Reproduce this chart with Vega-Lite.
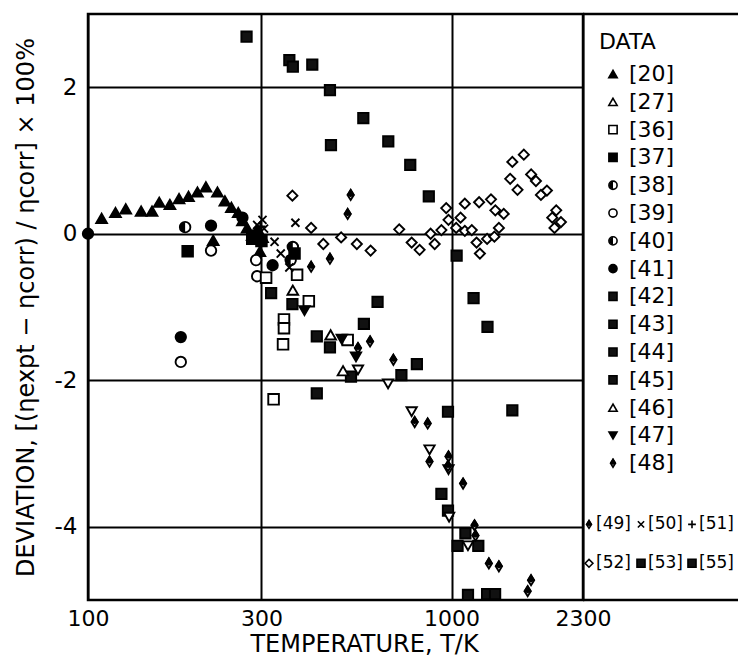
{
  "$schema": "https://vega.github.io/schema/vega-lite/v6.json",
  "background": "white",
  "padding": {"left": 12, "top": 12, "right": 0, "bottom": 0},
  "spacing": 0,
  "bounds": "flush",
  "config": {
    "font": "DejaVu Sans",
    "view": {"stroke": "black", "strokeWidth": 2.5},
    "concat": {"spacing": 0}
  },
  "datasets": {
    "pts": [
      {"T":100,"d":0.0,"s":"circ_f"},
      {"T":109,"d":0.21,"s":"tri_f"},{"T":119,"d":0.29,"s":"tri_f"},{"T":127,"d":0.34,"s":"tri_f"},{"T":140,"d":0.31,"s":"tri_f"},
      {"T":150,"d":0.31,"s":"tri_f"},{"T":157,"d":0.43,"s":"tri_f"},{"T":168,"d":0.40,"s":"tri_f"},{"T":178,"d":0.48,"s":"tri_f"},
      {"T":189,"d":0.51,"s":"tri_f"},{"T":200,"d":0.57,"s":"tri_f"},{"T":211,"d":0.64,"s":"tri_f"},{"T":227,"d":0.57,"s":"tri_f"},
      {"T":238,"d":0.45,"s":"tri_f"},{"T":248,"d":0.36,"s":"tri_f"},{"T":259,"d":0.29,"s":"tri_f"},{"T":266,"d":0.18,"s":"tri_f"},
      {"T":274,"d":0.08,"s":"tri_f"},{"T":283,"d":-0.02,"s":"tri_f"},{"T":292,"d":0.05,"s":"tri_f"},{"T":221,"d":-0.09,"s":"tri_f"},
      {"T":297,"d":-0.24,"s":"tri_f"},{"T":302,"d":-0.05,"s":"tri_f"},
      {"T":218,"d":0.11,"s":"circ_f"},{"T":266,"d":0.22,"s":"circ_f"},{"T":322,"d":-0.43,"s":"circ_f"},{"T":180,"d":-1.41,"s":"circ_f"},{"T":290,"d":-0.05,"s":"circ_f"},
      {"T":185,"d":0.09,"s":"circ_h"},{"T":366,"d":-0.18,"s":"circ_h"},{"T":361,"d":-0.36,"s":"circ_h"},
      {"T":218,"d":-0.23,"s":"circ_o"},{"T":292,"d":-0.58,"s":"circ_o"},{"T":180,"d":-1.75,"s":"circ_o"},{"T":290,"d":-0.36,"s":"circ_o"},
      {"T":188,"d":-0.24,"s":"sq_f"},{"T":283,"d":-0.07,"s":"sq_f"},{"T":370,"d":-0.27,"s":"sq_f"},{"T":300,"d":-0.1,"s":"sq_f"},
      {"T":309,"d":-0.60,"s":"sq_o"},{"T":376,"d":-0.56,"s":"sq_o"},{"T":405,"d":-0.92,"s":"sq_o"},{"T":346,"d":-1.17,"s":"sq_o"},
      {"T":346,"d":-1.29,"s":"sq_o"},{"T":344,"d":-1.51,"s":"sq_o"},{"T":324,"d":-2.26,"s":"sq_o"},{"T":518,"d":-1.45,"s":"sq_o"},
      {"T":273,"d":2.69,"s":"sq_m"},{"T":358,"d":2.37,"s":"sq_m"},{"T":366,"d":2.28,"s":"sq_m"},{"T":414,"d":2.31,"s":"sq_m"},
      {"T":463,"d":1.96,"s":"sq_m"},{"T":572,"d":1.58,"s":"sq_m"},{"T":466,"d":1.21,"s":"sq_m"},{"T":670,"d":1.26,"s":"sq_m"},
      {"T":770,"d":0.94,"s":"sq_m"},{"T":866,"d":0.51,"s":"sq_m"},{"T":1033,"d":-0.30,"s":"sq_m"},{"T":1150,"d":-0.88,"s":"sq_m"},
      {"T":1256,"d":-1.27,"s":"sq_m"},{"T":1470,"d":-2.41,"s":"sq_m"},{"T":626,"d":-0.93,"s":"sq_m"},{"T":574,"d":-1.23,"s":"sq_m"},
      {"T":426,"d":-1.40,"s":"sq_m"},{"T":463,"d":-1.55,"s":"sq_m"},{"T":803,"d":-1.78,"s":"sq_m"},{"T":529,"d":-1.95,"s":"sq_m"},
      {"T":728,"d":-1.93,"s":"sq_m"},{"T":365,"d":-0.96,"s":"sq_m"},{"T":426,"d":-2.18,"s":"sq_m"},{"T":319,"d":-0.81,"s":"sq_m"},
      {"T":978,"d":-2.43,"s":"sq_m"},{"T":938,"d":-3.55,"s":"sq_m"},{"T":978,"d":-3.78,"s":"sq_m"},{"T":1092,"d":-4.09,"s":"sq_m"},
      {"T":1039,"d":-4.26,"s":"sq_m"},{"T":1185,"d":-4.26,"s":"sq_m"},{"T":1110,"d":-4.93,"s":"sq_m"},{"T":1253,"d":-4.92,"s":"sq_m"},
      {"T":1318,"d":-4.92,"s":"sq_m"},
      {"T":394,"d":-1.05,"s":"dtri_f"},{"T":499,"d":-1.44,"s":"dtri_f"},{"T":546,"d":-1.68,"s":"dtri_f"},
      {"T":553,"d":-1.86,"s":"dtri_o"},{"T":669,"d":-2.05,"s":"dtri_o"},{"T":777,"d":-2.43,"s":"dtri_o"},{"T":870,"d":-2.95,"s":"dtri_o"},
      {"T":981,"d":-3.22,"s":"dtri_o"},{"T":985,"d":-3.87,"s":"dtri_o"},{"T":1110,"d":-4.26,"s":"dtri_o"},
      {"T":465,"d":-1.38,"s":"tri_o"},{"T":503,"d":-1.87,"s":"tri_o"},{"T":366,"d":-0.77,"s":"tri_o"},
      {"T":528,"d":0.53,"s":"dia_h"},{"T":518,"d":0.27,"s":"dia_h"},{"T":463,"d":-0.34,"s":"dia_h"},{"T":411,"d":-0.45,"s":"dia_h"},
      {"T":597,"d":-1.47,"s":"dia_h"},{"T":553,"d":-1.56,"s":"dia_h"},{"T":692,"d":-1.72,"s":"dia_h"},{"T":792,"d":-2.57,"s":"dia_h"},
      {"T":860,"d":-2.59,"s":"dia_h"},{"T":870,"d":-3.11,"s":"dia_h"},{"T":981,"d":-3.04,"s":"dia_h"},{"T":978,"d":-3.17,"s":"dia_h"},
      {"T":1076,"d":-3.41,"s":"dia_h"},{"T":1157,"d":-3.98,"s":"dia_h"},{"T":1164,"d":-4.12,"s":"dia_h"},{"T":1267,"d":-4.50,"s":"dia_h"},
      {"T":1350,"d":-4.54,"s":"dia_h"},{"T":1655,"d":-4.73,"s":"dia_h"},{"T":1620,"d":-4.88,"s":"dia_h"},
      {"T":365,"d":0.52,"s":"dia_o"},{"T":411,"d":0.08,"s":"dia_o"},{"T":444,"d":-0.14,"s":"dia_o"},{"T":497,"d":-0.05,"s":"dia_o"},
      {"T":549,"d":-0.14,"s":"dia_o"},{"T":599,"d":-0.23,"s":"dia_o"},{"T":718,"d":0.06,"s":"dia_o"},{"T":777,"d":-0.12,"s":"dia_o"},
      {"T":817,"d":-0.22,"s":"dia_o"},{"T":876,"d":0.0,"s":"dia_o"},{"T":899,"d":-0.14,"s":"dia_o"},{"T":938,"d":0.05,"s":"dia_o"},
      {"T":967,"d":0.35,"s":"dia_o"},{"T":981,"d":0.19,"s":"dia_o"},{"T":1030,"d":0.08,"s":"dia_o"},{"T":1059,"d":0.22,"s":"dia_o"},
      {"T":1088,"d":0.41,"s":"dia_o"},{"T":1088,"d":0.04,"s":"dia_o"},{"T":1137,"d":0.05,"s":"dia_o"},{"T":1191,"d":0.43,"s":"dia_o"},
      {"T":1172,"d":-0.12,"s":"dia_o"},{"T":1197,"d":-0.27,"s":"dia_o"},{"T":1253,"d":-0.07,"s":"dia_o"},{"T":1284,"d":0.47,"s":"dia_o"},
      {"T":1312,"d":-0.04,"s":"dia_o"},{"T":1320,"d":0.32,"s":"dia_o"},{"T":1350,"d":0.08,"s":"dia_o"},{"T":1392,"d":0.27,"s":"dia_o"},
      {"T":1450,"d":0.75,"s":"dia_o"},{"T":1470,"d":0.98,"s":"dia_o"},{"T":1519,"d":0.60,"s":"dia_o"},{"T":1581,"d":1.08,"s":"dia_o"},
      {"T":1656,"d":0.81,"s":"dia_o"},{"T":1707,"d":0.72,"s":"dia_o"},{"T":1762,"d":0.53,"s":"dia_o"},{"T":1830,"d":0.59,"s":"dia_o"},
      {"T":1893,"d":0.22,"s":"dia_o"},{"T":1941,"d":0.32,"s":"dia_o"},{"T":1920,"d":0.08,"s":"dia_o"},{"T":2000,"d":0.16,"s":"dia_o"},
      {"T":372,"d":0.15,"s":"cross"},{"T":326,"d":-0.11,"s":"cross"},{"T":339,"d":-0.27,"s":"cross"},{"T":358,"d":-0.46,"s":"cross"},
      {"T":292,"d":0.12,"s":"cross"},{"T":302,"d":0.19,"s":"cross"},{"T":305,"d":0.07,"s":"cross"},{"T":280,"d":0.0,"s":"cross"},
      {"T":298,"d":0.1,"s":"plus"}
    ],
    "leg": [
      {"r":-0.15,"tx":16,"lab":"DATA","fs":22},
      {"r":1,"sx":30,"s":"tri_f","tx":46,"lab":"[20]","fs":22},
      {"r":2,"sx":30,"s":"tri_o","tx":46,"lab":"[27]","fs":22},
      {"r":3,"sx":30,"s":"sq_o","tx":46,"lab":"[36]","fs":22},
      {"r":4,"sx":30,"s":"sq_f","tx":46,"lab":"[37]","fs":22},
      {"r":5,"sx":30,"s":"circ_h","tx":46,"lab":"[38]","fs":22},
      {"r":6,"sx":30,"s":"circ_o","tx":46,"lab":"[39]","fs":22},
      {"r":7,"sx":30,"s":"circ_h","tx":46,"lab":"[40]","fs":22},
      {"r":8,"sx":30,"s":"circ_f","tx":46,"lab":"[41]","fs":22},
      {"r":9,"sx":30,"s":"sq_m","tx":46,"lab":"[42]","fs":22},
      {"r":10,"sx":30,"s":"sq_m","tx":46,"lab":"[43]","fs":22},
      {"r":11,"sx":30,"s":"sq_m","tx":46,"lab":"[44]","fs":22},
      {"r":12,"sx":30,"s":"sq_m","tx":46,"lab":"[45]","fs":22},
      {"r":13,"sx":30,"s":"tri_o","tx":46,"lab":"[46]","fs":22},
      {"r":14,"sx":30,"s":"dtri_f","tx":46,"lab":"[47]","fs":22},
      {"r":15,"sx":30,"s":"dia_h","tx":46,"lab":"[48]","fs":22},
      {"r":17.2,"sx":6,"s":"dia_h","tx":13,"lab":"[49]","fs":17},
      {"r":17.2,"sx":58,"s":"cross","tx":65,"lab":"[50]","fs":17},
      {"r":17.2,"sx":109,"s":"plus","tx":116,"lab":"[51]","fs":17},
      {"r":18.6,"sx":6,"s":"dia_o","tx":13,"lab":"[52]","fs":17},
      {"r":18.6,"sx":58,"s":"sq_m","tx":65,"lab":"[53]","fs":17},
      {"r":18.6,"sx":109,"s":"sq_m","tx":116,"lab":"[55]","fs":17}
    ]
  },
  "hconcat": [
    {
      "width": 495,
      "height": 586,
      "data": {"name": "pts"},
      "encoding": {
        "x": {
          "field": "T", "type": "quantitative",
          "scale": {"type": "log", "domain": [100, 2300], "nice": false},
          "axis": {
            "values": [100, 300, 1000, 2300], "format": "d",
            "title": "TEMPERATURE, T/K",
            "grid": true, "gridColor": "black", "gridWidth": 2, "gridOpacity": 1,
            "ticks": false, "domain": false, "labelFlush": false, "labelOverlap": false,
            "labelFontSize": 22, "labelPadding": 8, "labelColor": "black",
            "titleFontSize": 24, "titleFontWeight": "normal", "titleColor": "black",
            "titlePadding": 3, "titleX": 276
          }
        },
        "y": {
          "field": "d", "type": "quantitative",
          "scale": {"domain": [-5, 3], "nice": false},
          "axis": {
            "values": [-4, -2, 0, 2],
            "labelExpr": "datum.value < 0 ? '-' + abs(datum.value) : datum.label",
            "title": "DEVIATION, [(ηexpt − ηcorr) / ηcorr] × 100%",
            "grid": true, "gridColor": "black", "gridWidth": 2, "gridOpacity": 1,
            "ticks": false, "domain": false, "labelFlush": false,
            "labelFontSize": 23, "labelPadding": 11, "labelColor": "black",
            "titleFontSize": 24, "titleFontWeight": "normal", "titleColor": "black",
            "titlePadding": 16
          }
        }
      },
      "layer": [
        {
          "mark": {"type": "point", "stroke": "black", "strokeWidth": 1.9, "opacity": 1, "fillOpacity": 1},
          "encoding": {
            "shape": {"field": "s", "type": "nominal", "legend": null,
              "scale": {"domain": ["tri_f","tri_o","sq_o","sq_f","circ_h","circ_o","circ_f","sq_m","dtri_f","dtri_o","dia_h","dia_o","cross","plus"],
                "range": ["triangle-up","triangle-up","square","square","circle","circle","circle","square","triangle-down","triangle-down","M0,-1L0.62,0L0,1L-0.62,0Z","diamond","M-0.8,-0.8L0.8,0.8M0.8,-0.8L-0.8,0.8","M-1,0L1,0M0,-1L0,1"]}},
            "fill": {"field": "s", "type": "nominal", "legend": null,
              "scale": {"domain": ["tri_f","tri_o","sq_o","sq_f","circ_h","circ_o","circ_f","sq_m","dtri_f","dtri_o","dia_h","dia_o","cross","plus"],
                "range": ["black","white","white","black","white","white","black","#111111","black","white","white","white","transparent","transparent"]}},
            "size": {"field": "s", "type": "nominal", "legend": null,
              "scale": {"domain": ["tri_f","tri_o","sq_o","sq_f","circ_h","circ_o","circ_f","sq_m","dtri_f","dtri_o","dia_h","dia_o","cross","plus"],
                "range": [115,100,75,75,100,100,110,80,110,100,170,85,100,100]}}
          }
        },
        {
          "transform": [{"filter": "datum.s == 'circ_h' || datum.s == 'dia_h'"}],
          "mark": {"type": "point", "filled": true, "fill": "black", "strokeWidth": 0, "opacity": 1},
          "encoding": {
            "shape": {"field": "s", "type": "nominal", "legend": null,
              "scale": {"domain": ["circ_h","dia_h"], "range": ["M0,-1A1,1,0,0,0,0,1Z","M0,-1L0.62,0L0,0.35L-0.62,0Z"]}},
            "size": {"field": "s", "type": "nominal", "legend": null,
              "scale": {"domain": ["circ_h","dia_h"], "range": [100,170]}}
          }
        }
      ],
      "resolve": {"scale": {"shape": "independent", "size": "independent"}}
    },
    {
      "width": 156,
      "height": 586,
      "view": {"stroke": null},
      "data": {"name": "leg"},
      "layer": [
        {
          "transform": [{"filter": "isValid(datum.s)"}],
          "mark": {"type": "point", "stroke": "black", "strokeWidth": 1.6, "opacity": 1, "fillOpacity": 1},
          "encoding": {
            "x": {"field": "sx", "type": "quantitative", "scale": {"domain": [0, 156], "nice": false, "zero": false}, "axis": null},
            "y": {"field": "r", "type": "quantitative", "scale": {"domain": [-1.16, 19.92], "nice": false, "zero": false, "reverse": true}, "axis": null},
            "shape": {"field": "s", "type": "nominal", "legend": null,
              "scale": {"domain": ["tri_f","tri_o","sq_o","sq_f","circ_h","circ_o","circ_f","sq_m","dtri_f","dtri_o","dia_h","dia_o","cross","plus"],
                "range": ["triangle-up","triangle-up","square","square","circle","circle","circle","square","triangle-down","triangle-down","M0,-1L0.62,0L0,1L-0.62,0Z","diamond","M-0.8,-0.8L0.8,0.8M0.8,-0.8L-0.8,0.8","M-1,0L1,0M0,-1L0,1"]}},
            "fill": {"field": "s", "type": "nominal", "legend": null,
              "scale": {"domain": ["tri_f","tri_o","sq_o","sq_f","circ_h","circ_o","circ_f","sq_m","dtri_f","dtri_o","dia_h","dia_o","cross","plus"],
                "range": ["black","white","white","black","white","white","black","#111111","black","white","white","white","transparent","transparent"]}},
            "size": {"field": "s", "type": "nominal", "legend": null,
              "scale": {"domain": ["tri_f","tri_o","sq_o","sq_f","circ_h","circ_o","circ_f","sq_m","dtri_f","dtri_o","dia_h","dia_o","cross","plus"],
                "range": [70,60,50,50,60,60,70,50,70,60,110,55,60,60]}}
          }
        },
        {
          "transform": [{"filter": "datum.s == 'circ_h' || datum.s == 'dia_h'"}],
          "mark": {"type": "point", "filled": true, "fill": "black", "strokeWidth": 0, "opacity": 1},
          "encoding": {
            "x": {"field": "sx", "type": "quantitative"},
            "y": {"field": "r", "type": "quantitative"},
            "shape": {"field": "s", "type": "nominal", "legend": null,
              "scale": {"domain": ["circ_h","dia_h"], "range": ["M0,-1A1,1,0,0,0,0,1Z","M0,-1L0.62,0L0,0.35L-0.62,0Z"]}},
            "size": {"field": "s", "type": "nominal", "legend": null,
              "scale": {"domain": ["circ_h","dia_h"], "range": [60,110]}}
          }
        },
        {
          "mark": {"type": "text", "align": "left", "baseline": "middle", "color": "black"},
          "encoding": {
            "x": {"field": "tx", "type": "quantitative"},
            "y": {"field": "r", "type": "quantitative"},
            "text": {"field": "lab"},
            "size": {"field": "fs", "type": "quantitative", "scale": null}
          }
        },
        {
          "data": {"values": [{}]},
          "mark": {"type": "rule", "color": "black", "strokeWidth": 2.5},
          "encoding": {"y": {"datum": -1.16, "type": "quantitative"}}
        },
        {
          "data": {"values": [{}]},
          "mark": {"type": "rule", "color": "black", "strokeWidth": 2.5},
          "encoding": {"y": {"datum": 19.92, "type": "quantitative"}}
        }
      ],
      "resolve": {"scale": {"shape": "independent", "size": "independent"}}
    }
  ]
}
